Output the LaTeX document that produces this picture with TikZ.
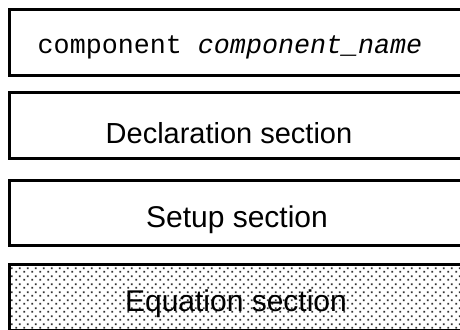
\documentclass[tikz,border=0pt]{standalone}
\usepackage{fontspec}
\setmainfont{Liberation Sans}
\newfontfamily\codefont{Liberation Mono}
\usetikzlibrary{patterns.meta}

\tikzdeclarepattern{
  name=eqdots,
  type=uncolored,
  bounding box={(0pt,0pt) and (7.5pt,7.5pt)},
  tile size={(7.5pt,7.5pt)},
  code={
    \fill (0.4pt,0.4pt) rectangle (2.3pt,2.3pt);
    \fill (4.15pt,4.15pt) rectangle (6.05pt,6.05pt);
  }
}

\tikzset{
  sectionbox/.style={draw, line width=3pt, minimum width=470pt,
    minimum height=65.5pt, inner sep=0pt, outer sep=0pt, anchor=north west},
  sectiontext/.style={anchor=base, font=\fontsize{30}{32}\selectfont},
}

\begin{document}
\begin{tikzpicture}[x=1pt,y=-1pt]
\useasboundingbox (0,0) rectangle (460,329);
\clip (0,0) rectangle (460,329);
\node[sectionbox] (comp) at (9.5,10) {};
\node[sectionbox] (decl) at (9.5,92.5) {};
\node[sectionbox] (setup) at (9.5,180) {};
\node[sectionbox, pattern=eqdots, pattern color=black!80] (eqn) at (9.5,264.5) {};
% section titles
\node[anchor=base, font=\codefont\fontsize{26.7}{28}\selectfont] (comptext)
  at (230,53) {component \textit{component\_name}};
\node[sectiontext, font=\fontsize{29}{31}\selectfont] (decltext) at (229,143) {Declaration section};
\node[sectiontext] (setuptext) at (237,227) {Setup section};
\node[sectiontext] (eqntext) at (236,311) {Equation section};
\end{tikzpicture}
\end{document}
